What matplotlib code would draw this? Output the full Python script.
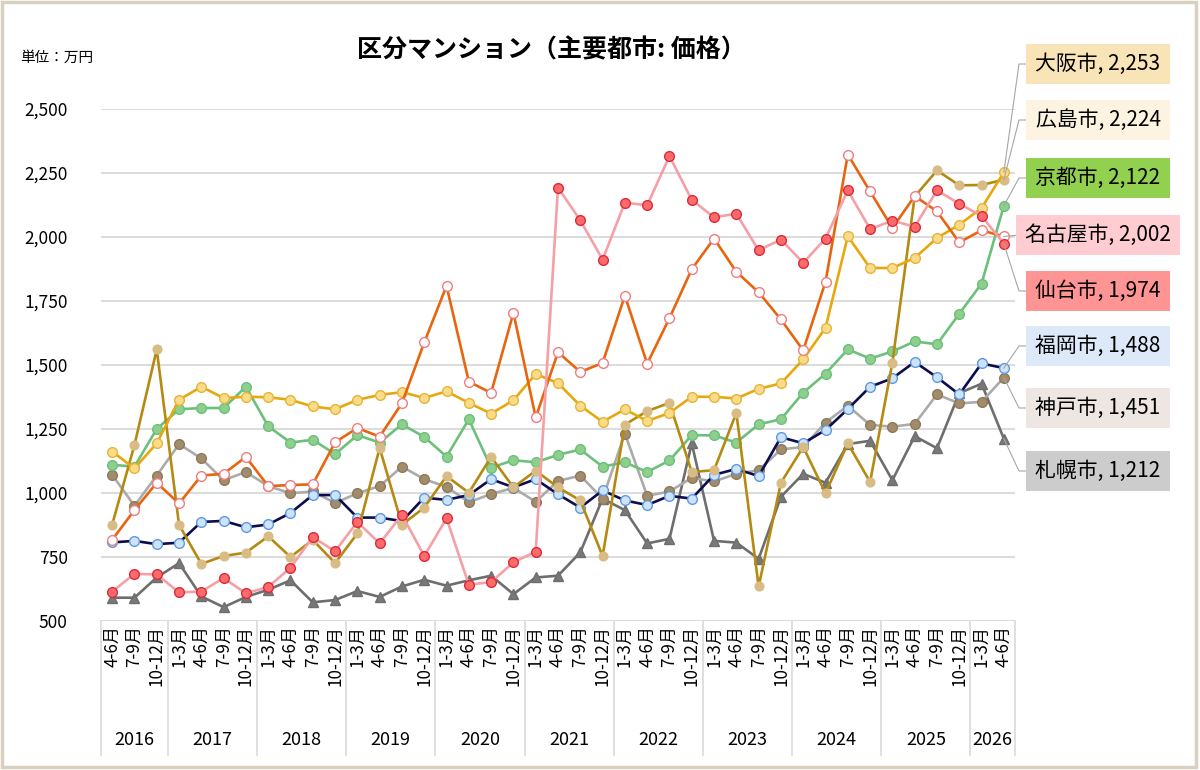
import matplotlib
matplotlib.use("Agg")
import matplotlib.pyplot as plt
from matplotlib.lines import Line2D
from matplotlib.patches import Rectangle
import matplotlib.transforms as mtransforms

plt.rcParams['font.family'] = ['Noto Sans CJK JP', 'DejaVu Sans']

# quarters 2016 4-6月 .. 2026 4-6月
quarters = ["4-6月", "7-9月", "10-12月"] + ["1-3月", "4-6月", "7-9月", "10-12月"] * 9 + ["1-3月", "4-6月"]
years = ["2016", "2017", "2018", "2019", "2020", "2021", "2022", "2023", "2024", "2025", "2026"]
year_counts = [3, 4, 4, 4, 4, 4, 4, 4, 4, 4, 2]

osaka = [1162, 1096, 1194, 1364, 1415, 1371, 1376, 1374, 1364, 1338, 1327, 1364, 1383, 1394, 1371,
         1397, 1352, 1310, 1362, 1465, 1429, 1341, 1278, 1327, 1281, 1313, 1376, 1376, 1369, 1407,
         1428, 1522, 1645, 2003, 1879, 1879, 1918, 1996, 2048, 2113, 2253]
hiroshima = [876, 1187, 1561, 876, 723, 754, 767, 831, 750, 817, 726, 842, 1176, 876, 943,
             1066, 1001, 1141, 1022, 1087, 1022, 971, 754, 1267, 1320, 1352, 1082, 1089, 1313, 635,
             1040, 1180, 999, 1194, 1043, 1509, 2158, 2260, 2202, 2203, 2224]
kyoto = [1110, 1103, 1250, 1327, 1332, 1332, 1415, 1261, 1197, 1208, 1152, 1226, 1197, 1268, 1219,
         1142, 1288, 1099, 1128, 1120, 1149, 1170, 1103, 1120, 1082, 1127, 1226, 1225, 1197, 1268,
         1288, 1392, 1466, 1561, 1525, 1553, 1592, 1581, 1700, 1818, 2122]
nagoya = [817, 933, 1040, 959, 1068, 1075, 1141, 1027, 1031, 1034, 1198, 1254, 1220, 1351, 1588,
          1809, 1435, 1391, 1704, 1295, 1550, 1473, 1508, 1771, 1505, 1683, 1874, 1994, 1864, 1784,
          1678, 1557, 1825, 2322, 2178, 2035, 2160, 2100, 1979, 2026, 2002]
sendai = [615, 684, 682, 612, 615, 668, 608, 633, 708, 828, 772, 887, 803, 915, 754,
          901, 642, 652, 729, 771, 2193, 2065, 1912, 2134, 2124, 2316, 2145, 2077, 2091, 1948,
          1990, 1899, 1994, 2182, 2031, 2064, 2040, 2182, 2130, 2082, 1974]
fukuoka = [807, 813, 800, 806, 887, 891, 866, 877, 922, 992, 992, 904, 904, 890, 982,
           973, 992, 1054, 1022, 1054, 995, 943, 1010, 971, 953, 989, 978, 1071, 1094, 1066,
           1218, 1194, 1246, 1328, 1415, 1448, 1512, 1452, 1385, 1506, 1488]
kobe = [1071, 950, 1068, 1191, 1135, 1050, 1082, 1027, 999, 1006, 961, 999, 1027, 1103, 1054,
        1024, 964, 996, 1020, 966, 1047, 1068, 978, 1232, 989, 1006, 1059, 1045, 1075, 1089,
        1170, 1180, 1275, 1341, 1266, 1259, 1270, 1385, 1350, 1356, 1451]
sapporo = [591, 591, 670, 726, 596, 554, 594, 622, 659, 573, 582, 617, 594, 635, 661,
           638, 659, 677, 605, 670, 677, 768, 978, 933, 803, 821, 1194, 813, 806, 743,
           985, 1075, 1040, 1191, 1204, 1050, 1222, 1175, 1390, 1427, 1212]

# name, data, line colour, marker, face, edge, label box colour
series = [
    ("札幌市", sapporo, "#6E6E6E", "^", "#787878", "#6E6E6E", "#CCCCCC"),
    ("神戸市", kobe, "#ABABAB", "o", "#A38C6C", "#8E7A5A", "#EDE6E2"),
    ("福岡市", fukuoka, "#0D0D4D", "o", "#CFE2F8", "#5B9BE0", "#DDE8F8"),
    ("京都市", kyoto, "#6CC07A", "o", "#8ECF8E", "#6CC07A", "#92D050"),
    ("広島市", hiroshima, "#B58A12", "o", "#D8BC84", "#D8BC84", "#FCF4E0"),
    ("大阪市", osaka, "#E6A80E", "o", "#F9DC8A", "#E8B43A", "#F9E4B7"),
    ("名古屋市", nagoya, "#E8650F", "o", "#FFFFFF", "#F07C80", "#FFCCD2"),
    ("仙台市", sendai, "#F4A0A6", "o", "#FF6B6B", "#D92B3A", "#FF9494"),
]
label_order = ["大阪市", "広島市", "京都市", "名古屋市", "仙台市", "福岡市", "神戸市", "札幌市"]
label_y = [64, 120, 178, 235, 291, 346, 408, 471]

W, H = 1200, 770
fig = plt.figure(figsize=(W / 100, H / 100), dpi=100)
fig.patch.set_facecolor("white")
fig.add_artist(Rectangle((0.002, 0.004), 0.995, 0.993, transform=fig.transFigure,
                         facecolor="none", edgecolor="#D8D1C0", lw=2.5))

ax = fig.add_axes([101 / W, 149 / H, 914 / W, 512 / H])
x = list(range(len(quarters)))

for name, vals, lc, mk, fc, ec, bc in series:
    ms = 7.5 if mk == "^" else (6.3 if name == "広島市" else 7)
    ax.plot(x, vals, color=lc, lw=1.9, marker=mk, markersize=ms,
            markerfacecolor=fc, markeredgecolor=ec, markeredgewidth=1.0, zorder=3)

ax.set_xlim(-0.5, len(quarters) - 0.5)
ax.set_ylim(500, 2500)
ax.set_yticks([500, 750, 1000, 1250, 1500, 1750, 2000, 2250, 2500])
ax.set_yticklabels([f"{v:,}" for v in ax.get_yticks().astype(int)], fontsize=12.5)
ax.yaxis.grid(True, color="#D9D9D9", lw=1.3)
ax.set_axisbelow(True)
for s in ax.spines.values():
    s.set_visible(False)
ax.tick_params(axis="y", length=0, pad=24)
ax.set_xticks(x)
ax.set_xticklabels(quarters, rotation=90, fontsize=12.3, va="top")
ax.tick_params(axis="x", length=0, pad=3)

# year separators and labels
trans = mtransforms.blended_transform_factory(ax.transData, ax.transAxes)
pos = -0.5
for yr, n in zip(years, year_counts):
    ax.add_line(Line2D([pos, pos], [0, -0.262], transform=trans, color="#D9D9D9", lw=1.2, clip_on=False))
    ax.text(pos + n / 2, -0.232, yr, transform=trans, ha="center", va="center", fontsize=13)
    pos += n
ax.add_line(Line2D([pos, pos], [0, -0.262], transform=trans, color="#D9D9D9", lw=1.2, clip_on=False))

fig.text(551 / W, 1 - 50 / H, "区分マンション（主要都市: 価格）", ha="center", va="center",
         fontsize=18, fontweight="bold")
fig.text(20 / W, 1 - 58 / H, "単位：万円", ha="left", va="center", fontsize=10.5)

# end labels with leader lines
info = {s[0]: s for s in series}
for name, by in zip(label_order, label_y):
    _, vals, lc, mk, fc, ec, bc = info[name]
    px, py = ax.transData.transform((len(quarters) - 1, vals[-1]))
    fig.add_artist(Line2D([px / W, 1019 / W, 1026 / W], [py / H, 1 - by / H, 1 - by / H],
                          transform=fig.transFigure, color="#A6A6A6", lw=0.8))
    fig.text(1098 / W, 1 - by / H, f"{name}, {vals[-1]:,}", ha="center", va="center", fontsize=15,
             bbox=dict(boxstyle="square,pad=0.45", facecolor=bc, edgecolor="none"))

fig.savefig("out.png", dpi=100)
